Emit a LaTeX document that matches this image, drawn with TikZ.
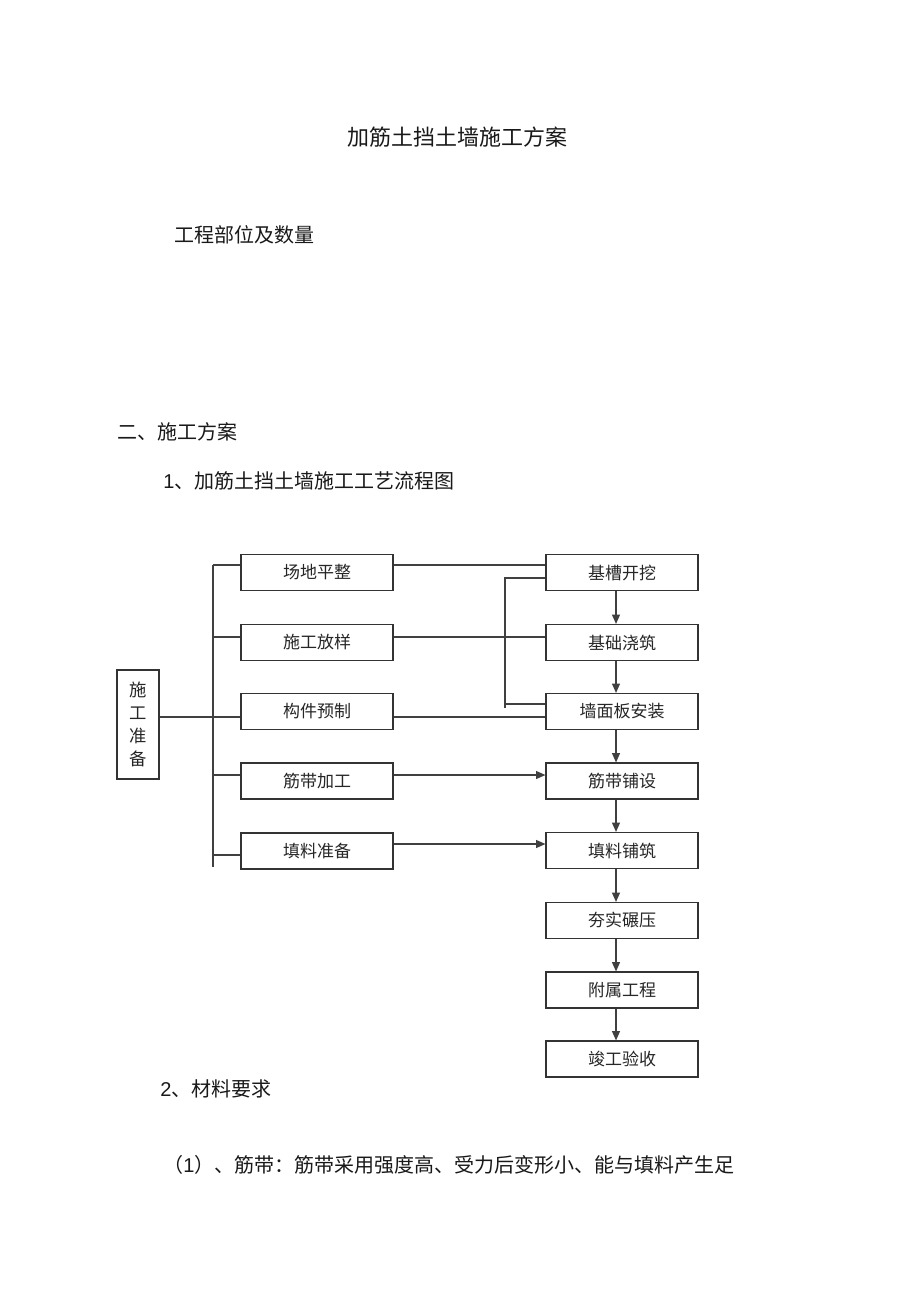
\documentclass[tikz,border=0pt]{standalone}
\usepackage{fontspec}
\setmainfont{Liberation Sans}
\newfontfamily\cjk{Noto Sans CJK SC}
\usetikzlibrary{arrows.meta}
\begin{document}
\begin{tikzpicture}[x=0.75pt,y=-0.75pt,
  box/.style={draw=black!80,line width=0.9pt,minimum width=114pt,minimum height=27pt,inner sep=0pt,
    font=\cjk\fontsize{12.75pt}{15pt}\selectfont,text=black!85},
  ln/.style={draw=black!75,line width=0.8pt},
  arr/.style={ln,-{Triangle[length=7pt,width=6pt]}},
  txt/.style={anchor=west,inner sep=0pt,text=black!90,font=\fontsize{15pt}{18pt}\selectfont}]
\useasboundingbox[fill=white] (0,0) rectangle (920,1303);

% texts
\node[inner sep=0pt,text=black!90,font=\cjk\fontsize{16.5pt}{18pt}\selectfont] (title) at (457.5,137) {加筋土挡土墙施工方案};
\node[txt] (t1) at (174,235) {\cjk 工程部位及数量};
\node[txt] (t2) at (117,432) {\cjk 二、施工方案};
\node[txt] (t3) at (163,481) {1{\cjk 、加筋土挡土墙施工工艺流程图}};
\node[txt] (t4) at (160,1089) {2{\cjk 、材料要求}};
\node[txt] (t5) at (163,1165) {{\cjk （}1{\cjk ）、筋带：筋带采用强度高、受力后变形小、能与填料产生足}};

% prep box
\node[draw=black!80,line width=0.9pt,minimum width=31.5pt,minimum height=81.75pt,inner sep=0pt,align=center,
  font=\cjk\fontsize{13pt}{17.25pt}\selectfont,text=black!85] (P) at (138,724.5) {施\\工\\准\\备};

% left column
\node[box] (L1) at (317,572.5) {场地平整};
\node[box] (L2) at (317,642.5) {施工放样};
\node[box] (L3) at (317,711.5) {构件预制};
\node[box] (L4) at (317,781) {筋带加工};
\node[box] (L5) at (317,851) {填料准备};

% right column
\node[box] (R1) at (622,572.5) {基槽开挖};
\node[box] (R2) at (622,642.5) {基础浇筑};
\node[box] (R3) at (622,711.5) {墙面板安装};
\node[box] (R4) at (622,781) {筋带铺设};
\node[box] (R5) at (622,850.5) {填料铺筑};
\node[box] (R6) at (622,920.5) {夯实碾压};
\node[box] (R7) at (622,990) {附属工程};
\node[box] (R8) at (622,1059) {竣工验收};

% trunk
\coordinate (ttop) at (213,565);
\coordinate (tbot) at (213,867);
\draw[ln,line width=1.6pt] (ttop) -- (tbot);
\draw[ln] (P.east |- 0,717) -- (213,717);
\draw[ln] (213,565) -- (L1.west |- 0,565);
\draw[ln] (213,637) -- (L2.west |- 0,637);
\draw[ln] (213,717) -- (L3.west |- 0,717);
\draw[ln] (213,775) -- (L4.west |- 0,775);
\draw[ln] (213,855) -- (L5.west |- 0,855);

% left to right connectors
\draw[ln] (L1.east |- 0,565) -- (R1.west |- 0,565);
\draw[ln] (L2.east |- 0,637) -- (R2.west |- 0,637);
\draw[ln] (L3.east |- 0,717) -- (R3.west |- 0,717);
\draw[arr] (L4.east |- 0,775) -- (R4.west |- 0,775);
\draw[arr] (L5.east |- 0,844) -- (R5.west |- 0,844);

% bracket
\coordinate (bk1) at (505,578);
\coordinate (bk2) at (505,708);
\draw[ln] (R1.west |- 0,578) -- (bk1) -- (bk2);
\draw[ln] (505,704) -- (R3.west |- 0,704);

% vertical arrows
\foreach \a/\b in {R1/R2,R2/R3,R3/R4,R4/R5,R5/R6,R6/R7,R7/R8}{
  \draw[arr] (\a.south -| 616,0) -- (\b.north -| 616,0);
}
\end{tikzpicture}
\end{document}
